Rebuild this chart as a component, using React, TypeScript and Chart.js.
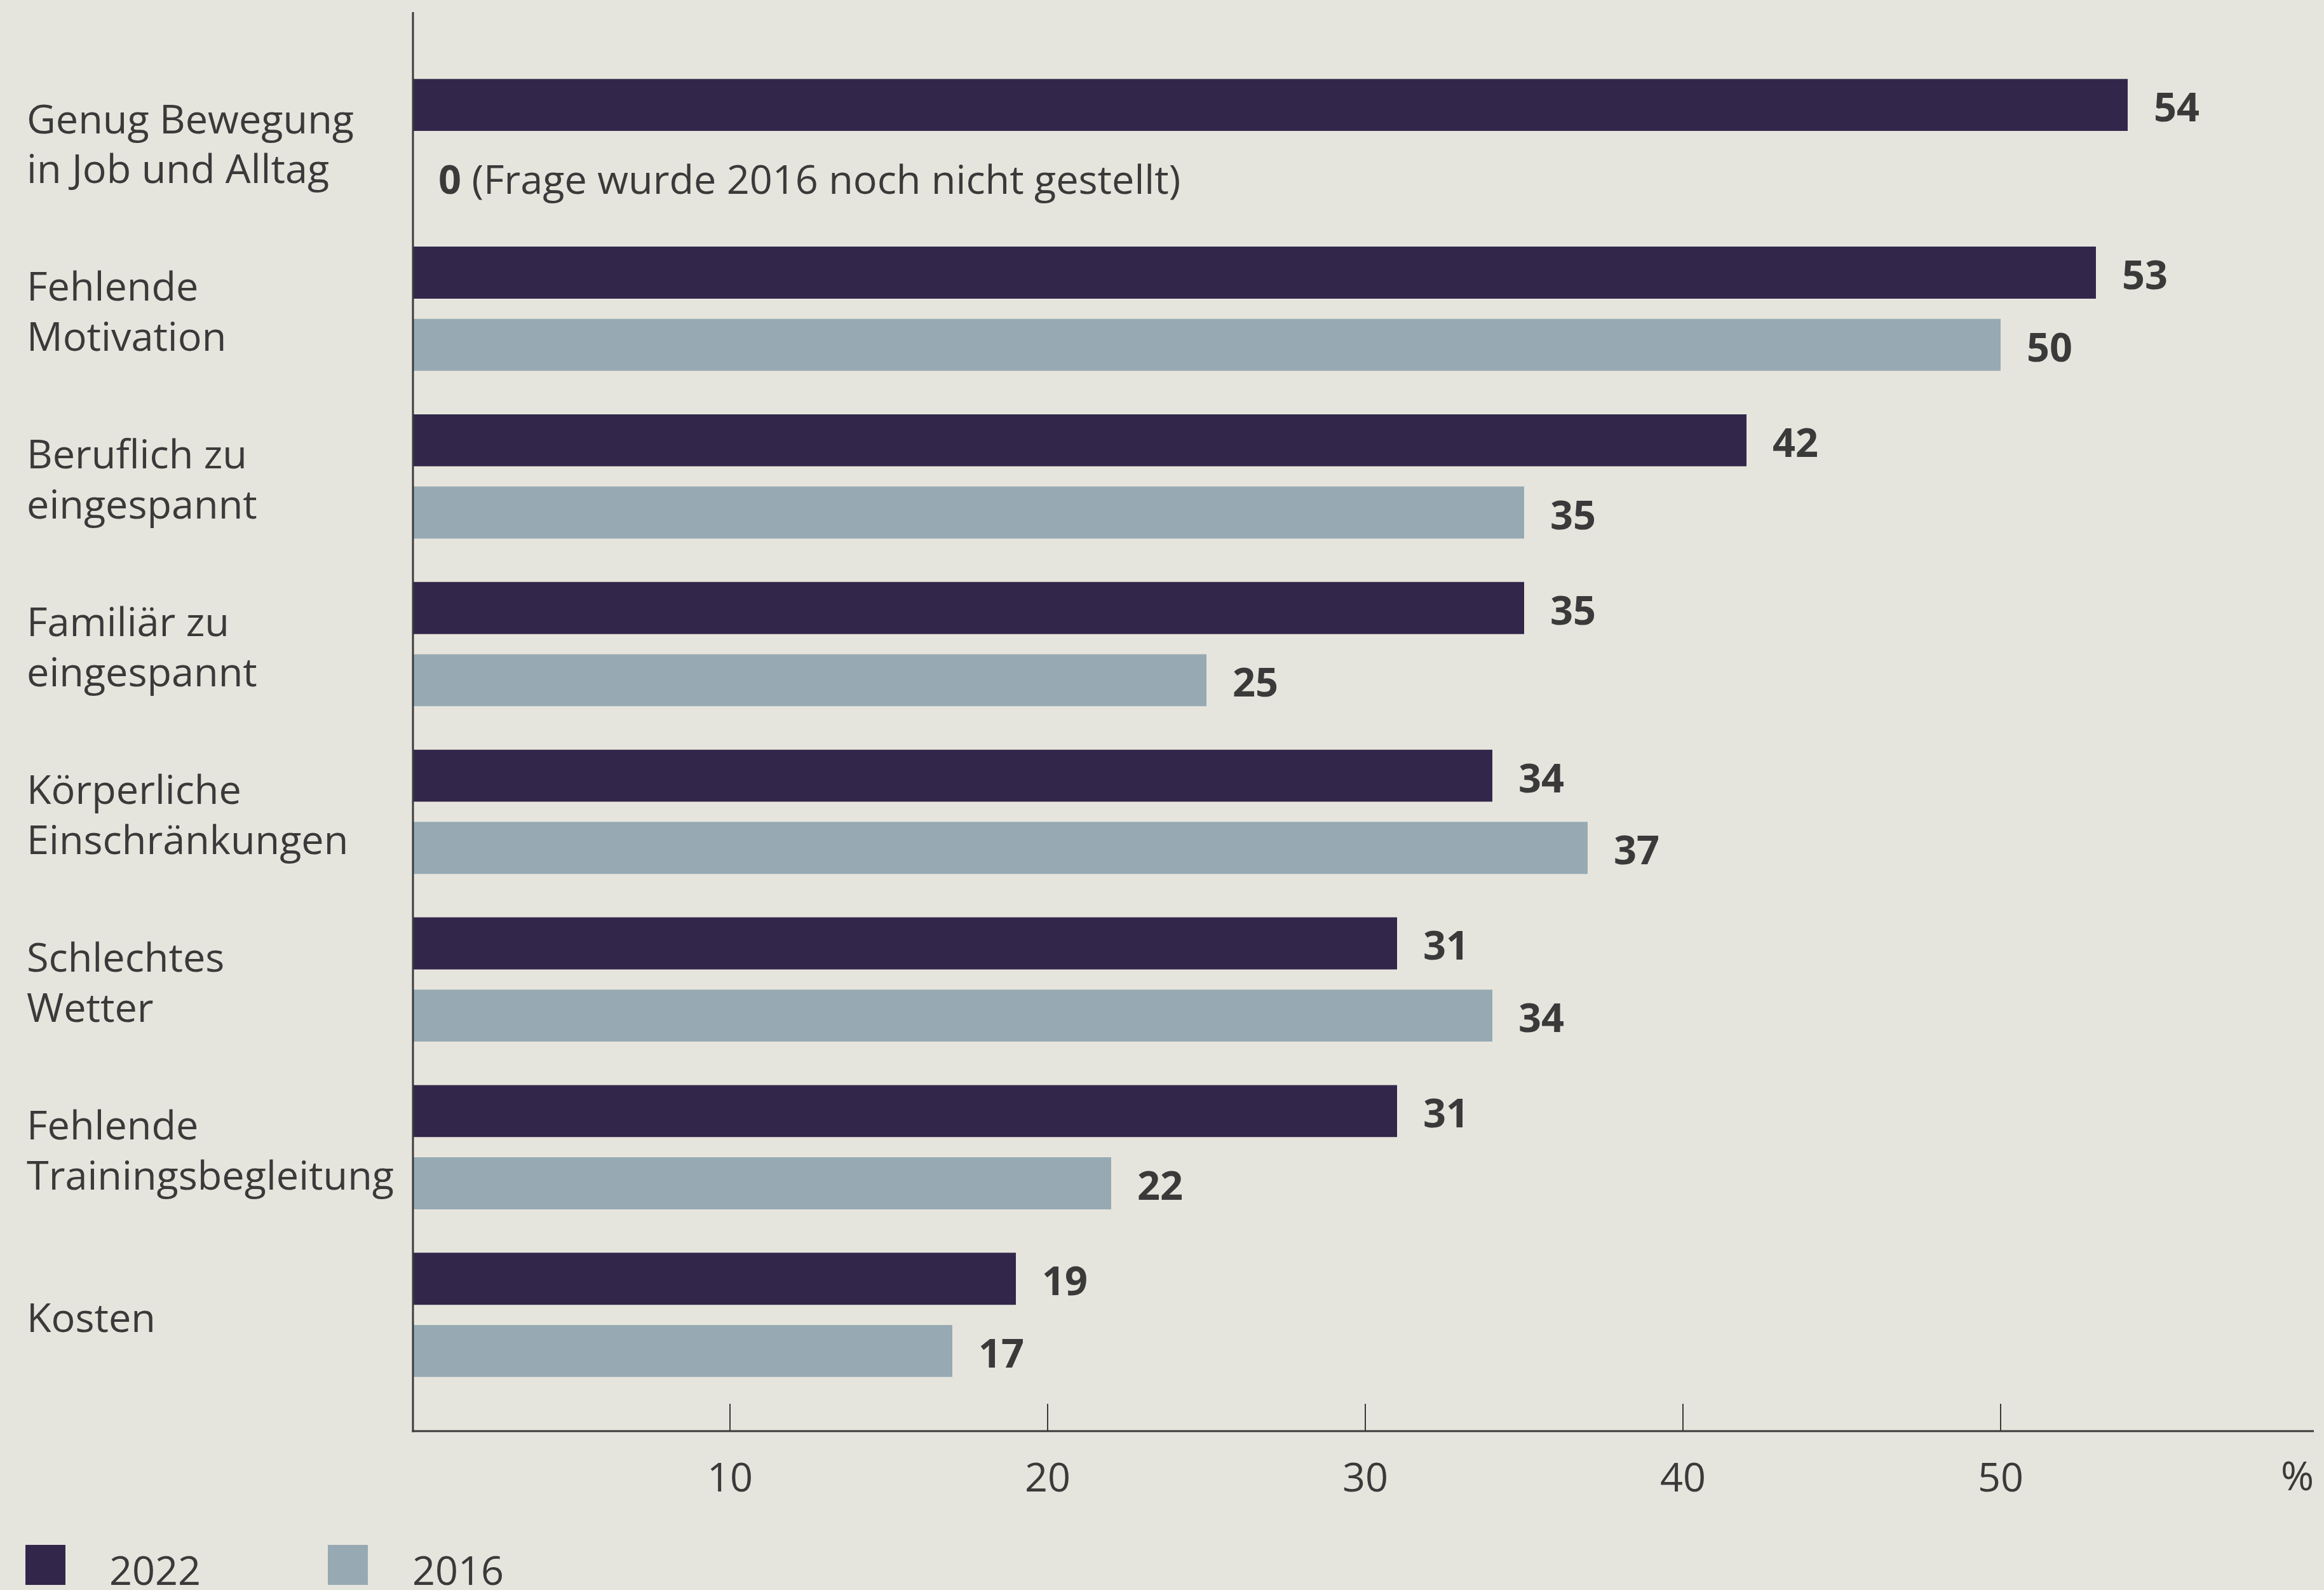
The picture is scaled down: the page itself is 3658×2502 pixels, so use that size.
import React, { useEffect, useRef } from "react";
import { Chart, registerables } from "chart.js";

Chart.register(...registerables);

const categories: string[][] = [
  ["Genug Bewegung", "in Job und Alltag"],
  ["Fehlende", "Motivation"],
  ["Beruflich zu", "eingespannt"],
  ["Familiär zu", "eingespannt"],
  ["Körperliche", "Einschränkungen"],
  ["Schlechtes", "Wetter"],
  ["Fehlende", "Trainingsbegleitung"],
  ["Kosten"],
];
const values2022 = [54, 53, 42, 35, 34, 31, 31, 19];
const values2016 = [0, 50, 35, 25, 37, 34, 22, 17];
const notes2016 = ["(Frage wurde 2016 noch nicht gestellt)", "", "", "", "", "", "", ""];
const seriesLabels = ["2022", "2016"];
const xTicks = [10, 20, 30, 40, 50];
const unitLabel = "%";

const BG = "#e6e5dd";
const DARK = "#32274a";
const LIGHT = "#97aab3";
const TEXT = "#3a3a3a";
const FONT = "'Open Sans', sans-serif";
const FS = 63;

export default function App() {
  const ref = useRef<HTMLCanvasElement | null>(null);

  useEffect(() => {
    document.body.style.margin = "0";
    document.body.style.background = BG;
    const canvas = ref.current!;
    const notes = notes2016;

    const deco = {
      id: "deco",
      beforeDraw(chart: any) {
        const c = chart.ctx;
        c.save();
        c.fillStyle = BG;
        c.fillRect(0, 0, chart.width, chart.height);
        c.restore();
      },
      afterDatasetsDraw(chart: any) {
        const c = chart.ctx;
        c.save();
        c.textBaseline = "middle";
        c.fillStyle = TEXT;
        chart.data.datasets.forEach((ds: any, di: number) => {
          const meta = chart.getDatasetMeta(di);
          meta.data.forEach((bar: any, i: number) => {
            const v = ds.data[i];
            const x = bar.x + 41;
            const y = bar.y + 8;
            c.font = `bold ${FS}px ${FONT}`;
            c.textAlign = "left";
            const s = String(v);
            c.fillText(s, x, y);
            if (di === 1 && notes[i]) {
              const w = c.measureText(s).width;
              c.font = `${FS}px ${FONT}`;
              c.fillText(" " + notes[i], x + w, y);
            }
          });
        });
        c.restore();
      },
      afterDraw(chart: any) {
        const c = chart.ctx;
        const xs = chart.scales.x;
        const area = chart.chartArea;
        const x0 = xs.getPixelForValue(0) + 1;
        const axisY = area.bottom + 51;
        c.save();
        c.strokeStyle = TEXT;
        c.lineWidth = 3;
        c.beginPath();
        c.moveTo(x0, 19);
        c.lineTo(x0, axisY + 1.5);
        c.stroke();
        c.beginPath();
        c.moveTo(x0 - 1.5, axisY);
        c.lineTo(xs.right - 7, axisY);
        c.stroke();
        c.lineWidth = 2;
        xTicks.forEach((t) => {
          const px = xs.getPixelForValue(t);
          c.beginPath();
          c.moveTo(px, area.bottom + 8);
          c.lineTo(px, axisY);
          c.stroke();
        });
        // unit label
        c.fillStyle = TEXT;
        c.font = `${FS}px ${FONT}`;
        c.textAlign = "right";
        c.textBaseline = "middle";
        c.fillText(unitLabel, xs.right - 7, 2327);
        // legend
        const items = chart.data.datasets.map((ds: any) => ({ label: ds.label, color: ds.backgroundColor }));
        const boxX = [40, 516];
        const textX = [172, 649];
        items.forEach((it: any, i: number) => {
          c.fillStyle = it.color;
          c.fillRect(boxX[i], 2431, 63, 63);
          c.fillStyle = TEXT;
          c.textAlign = "left";
          c.textBaseline = "alphabetic";
          c.fillText(it.label, textX[i], 2494);
        });
        c.restore();
      },
    };

    const chart = new Chart(canvas, {
      type: "bar",
      data: {
        labels: categories,
        datasets: [
          { label: seriesLabels[0], data: values2022, backgroundColor: DARK, categoryPercentage: 0.862, barPercentage: 0.72 },
          { label: seriesLabels[1], data: values2016, backgroundColor: LIGHT, categoryPercentage: 0.862, barPercentage: 0.72 },
        ],
      },
      options: {
        indexAxis: "y",
        animation: false,
        responsive: false,
        devicePixelRatio: 1,
        layout: { padding: { left: 42, top: 90, right: 9, bottom: 0 } },
        plugins: { legend: { display: false }, tooltip: { enabled: false } },
        scales: {
          x: {
            min: 0,
            max: 60,
            grid: { display: false, drawTicks: false },
            border: { display: false },
            ticks: {
              stepSize: 10,
              autoSkip: false,
              maxRotation: 0,
              padding: 90,
              color: TEXT,
              font: { family: FONT, size: FS },
              callback: (v: any) => (xTicks.includes(Number(v)) ? String(v) : ""),
            },
            afterFit: (s: any) => {
              s.height = 301;
              s.paddingLeft = 0;
              s.paddingRight = 0;
            },
          },
          y: {
            grid: { display: false, drawTicks: false },
            border: { display: false },
            ticks: {
              crossAlign: "far",
              color: TEXT,
              padding: 0,
              labelOffset: 9,
              font: { family: FONT, size: FS, lineHeight: 1.25 },
            },
            afterFit: (s: any) => {
              s.width = 607;
              s.paddingTop = 0;
              s.paddingBottom = 0;
            },
          },
        },
      },
      plugins: [deco],
    });
    return () => chart.destroy();
  }, []);

  return (
    <div style={{ width: 3658, height: 2502 }}>
      <canvas ref={ref} width={3658} height={2502} style={{ display: "block" }} />
    </div>
  );
}
